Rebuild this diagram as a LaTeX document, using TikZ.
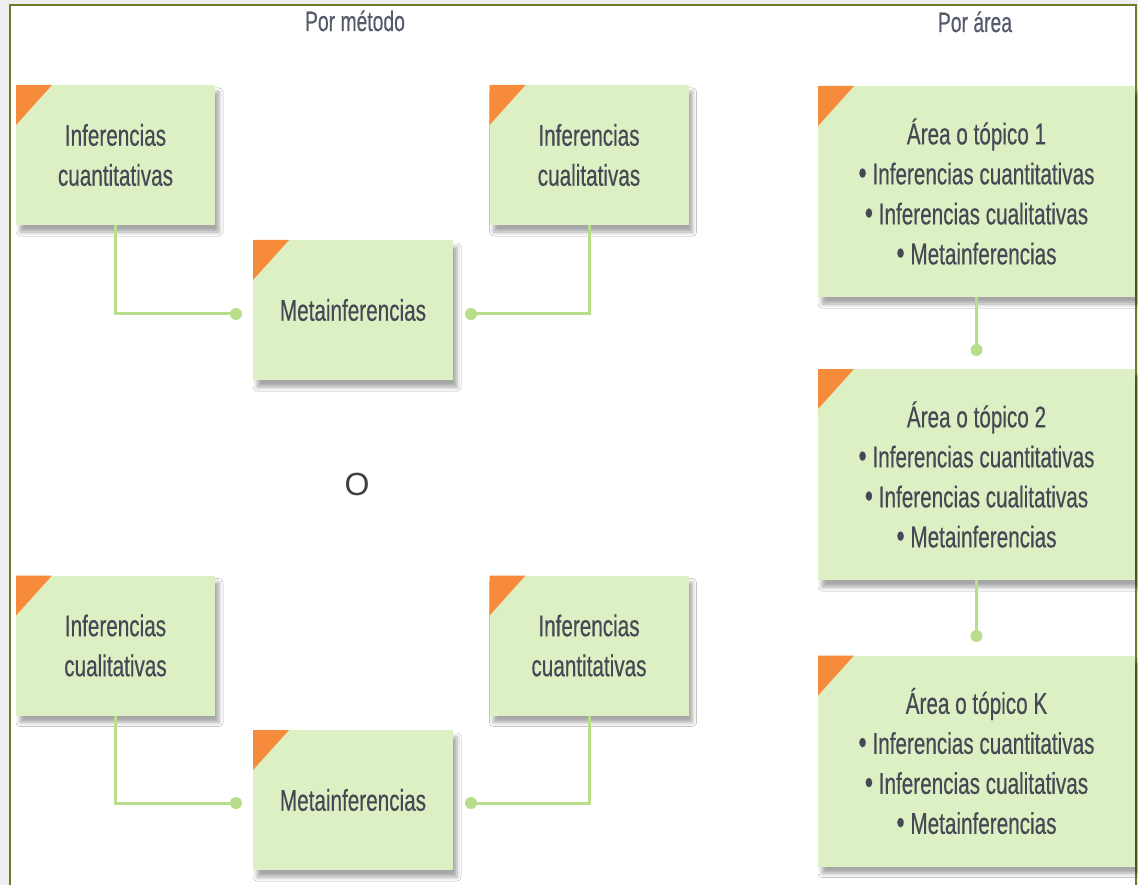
\documentclass[tikz,border=0pt]{standalone}
\usepackage{fontspec}
\setmainfont{Liberation Sans}[FakeStretch=0.69, FakeBold=0.4]
\newfontfamily\plainsans{Liberation Sans}
\usetikzlibrary{shadows.blur}

\definecolor{cardfill}{HTML}{DDF0C3}
\definecolor{cardcorner}{HTML}{F68B3B}
\definecolor{linkgreen}{HTML}{B8DE8C}
\definecolor{frameolive}{HTML}{6B7D2C}
\definecolor{inkgray}{HTML}{454955}
\definecolor{titlegray}{HTML}{555B6B}
\definecolor{outerbg}{HTML}{EEEEEE}

\newcommand{\bul}{{\fontsize{34}{40}\selectfont •}}

\tikzset{
  card/.style={fill=cardfill, inner sep=0pt, align=center, text=inkgray,
    font=\fontsize{30}{40}\selectfont,
    blur shadow={shadow xshift=4pt, shadow yshift=-7pt, shadow blur radius=4pt, shadow opacity=35},
    path picture={\fill[cardcorner] (path picture bounding box.north west)
      -- ++(36pt,0pt) -- ++(-36pt,-40pt) -- cycle;}},
  infocard/.style={card, minimum width=199pt, minimum height=140pt},
  metacard/.style={card, minimum width=200pt, minimum height=140pt},
  areacard/.style={card, minimum width=317pt, minimum height=211pt},
  link/.style={draw=linkgreen, line width=3pt},
  linkdot/.style={circle, fill=linkgreen, minimum size=12pt, inner sep=0pt},
  heading/.style={text=titlegray, font=\fontsize{28}{32}\selectfont, anchor=base},
}

\begin{document}
\begin{tikzpicture}[x=1pt,y=-1pt]
\useasboundingbox (0,0) rectangle (1138,885);
% page backdrop and frame
\fill[outerbg] (0,0) rectangle (1138,885);
\fill[white] (10,5) rectangle (1136,900);
\draw[frameolive, line width=2pt] (10,900) -- (10,5) -- (1136,5) -- (1136,900);

% headings
\node[heading] (hmet) at (355,31) {Por método};
\node[heading] (harea) at (975,32) {Por área};

% by method: first arrangement
\node[infocard] (cuant1) at (115.5,155) {Inferencias\\cuantitativas};
\node[infocard] (cual1) at (589,155) {Inferencias\\cualitativas};
\node[metacard] (meta1) at (353,310) {Metainferencias};
\node[linkdot] (d1) at (236,314) {};
\node[linkdot] (d2) at (471,314) {};
\draw[link] (cuant1.south) |- (d1.center);
\draw[link] (cual1.south) |- (d2.center);

% alternative
\node[text=black!75, font=\plainsans\fontsize{32}{36}\selectfont] (alt) at (357,484) {O};

% by method: second arrangement
\node[infocard] (cual2) at (115.5,645.5) {Inferencias\\cualitativas};
\node[infocard] (cuant2) at (589,645.5) {Inferencias\\cuantitativas};
\node[metacard] (meta2) at (353,800) {Metainferencias};
\node[linkdot] (d3) at (236,803) {};
\node[linkdot] (d4) at (471,803) {};
\draw[link] (cual2.south) |- (d3.center);
\draw[link] (cuant2.south) |- (d4.center);

% by area
\node[areacard] (area1) at (976.5,191.5) {Área o tópico 1\\\bul{} Inferencias cuantitativas\\\bul{} Inferencias cualitativas\\\bul{} Metainferencias};
\node[areacard] (area2) at (976.5,474.5) {Área o tópico 2\\\bul{} Inferencias cuantitativas\\\bul{} Inferencias cualitativas\\\bul{} Metainferencias};
\node[areacard] (area3) at (976.5,761) {Área o tópico K\\\bul{} Inferencias cuantitativas\\\bul{} Inferencias cualitativas\\\bul{} Metainferencias};
\node[linkdot] (d5) at (976.5,350) {};
\node[linkdot] (d6) at (976.5,636) {};
\draw[link] (area1.south) -- (d5.center);
\draw[link] (area2.south) -- (d6.center);
\end{tikzpicture}
\end{document}
